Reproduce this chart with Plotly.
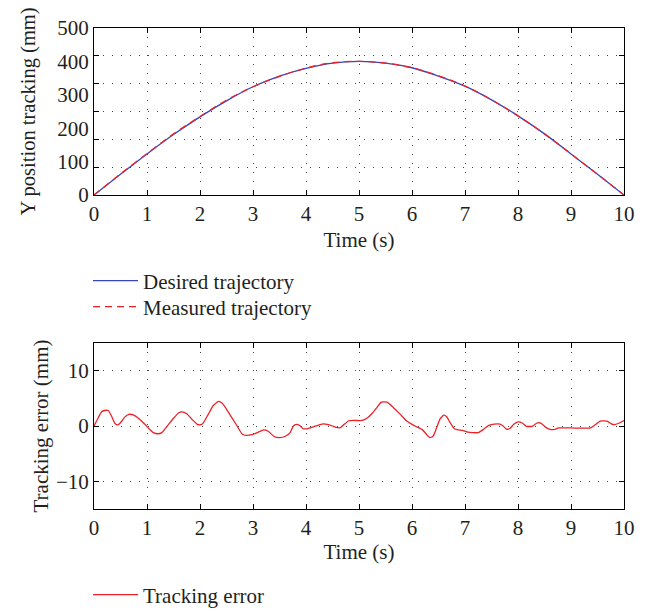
import plotly.graph_objects as go

# ---- data ----
traj_t = [0, 0.5, 1, 1.5, 2, 2.5, 3, 3.5, 4, 4.5, 5, 5.5, 6, 6.5, 7, 7.5, 8, 8.5, 9, 9.5, 10]
desired = [0, 62, 123, 181, 234, 282, 324, 356, 379, 395, 400, 395, 381, 356, 326, 285, 237, 183, 123, 62, 0]
measured = [0, 63, 124, 183, 235, 284, 324, 355, 380, 396, 400, 395, 381, 357, 326, 285, 237, 183, 123, 62, 0]

err_t = [0, 0.08, 0.15, 0.2, 0.27, 0.33, 0.4, 0.45, 0.5, 0.58, 0.66, 0.74, 0.85, 0.95,
         1.05, 1.12, 1.2, 1.28, 1.4, 1.5, 1.6, 1.66, 1.75, 1.85, 1.95, 2.0, 2.05, 2.15,
         2.25, 2.35, 2.42, 2.55, 2.7, 2.8, 2.87, 3.0, 3.1, 3.2, 3.28, 3.4, 3.5, 3.62,
         3.7, 3.76, 3.82, 3.88, 3.95, 4.02, 4.15, 4.3, 4.4, 4.5, 4.55, 4.65, 4.72, 4.8,
         4.9, 5.06, 5.15, 5.25, 5.35, 5.42, 5.53, 5.65, 5.78, 5.9, 6.0, 6.1, 6.2, 6.3,
         6.34, 6.4, 6.47, 6.53, 6.6, 6.65, 6.72, 6.8, 6.87, 6.95, 7.05, 7.15, 7.25, 7.35,
         7.45, 7.55, 7.66, 7.72, 7.78, 7.84, 7.92, 8.0, 8.08, 8.16, 8.27, 8.35, 8.4, 8.46,
         8.53, 8.62, 8.7, 8.77, 9.0, 9.37, 9.47, 9.55, 9.68, 9.76, 9.82, 9.9, 10.0]
err_v = [0, 1.5, 2.6, 2.8, 2.8, 1.8, 0.4, 0.2, 0.6, 1.6, 2.1, 2.0, 1.3, 0.4,
         -0.6, -1.2, -1.4, -1.2, 0.2, 1.4, 2.4, 2.55, 2.2, 1.2, 0.3, 0.2, 0.4, 2.0,
         3.7, 4.45, 4.1, 2.3, 0.0, -1.5, -1.7, -1.5, -1.1, -0.7, -0.9, -1.9, -2.1, -1.8,
         -1.2, 0.0, 0.3, 0.1, -0.5, -0.5, -0.1, 0.35, 0.3, 0.0, -0.2, -0.3, 0.3, 0.9,
         1.0, 1.0, 1.4, 2.3, 3.5, 4.3, 4.3, 3.3, 2.1, 0.9, 0.3, -0.2, -0.7, -1.8,
         -2.1, -1.8, -0.2, 1.3, 1.95, 1.7, 0.6, -0.5, -0.7, -0.8, -1.1, -1.2, -1.2, -0.6,
         0.1, 0.35, 0.35, 0.0, -0.55, -0.5, 0.3, 0.75, 0.55, -0.05, -0.05, 0.5, 0.6, 0.3,
         -0.3, -0.65, -0.6, -0.35, -0.35, -0.35, 0.3, 0.9, 0.9, 0.4, 0.25, 0.5, 1.0]

x_ticks = [0, 1, 2, 3, 4, 5, 6, 7, 8, 9, 10]
y1_ticks = [0, 100, 200, 300, 400, 500]
y1_grid = [83.33, 166.67, 250, 333.33, 416.67]
y2_ticks = [-10, 0, 10]

# ---- style ----
W, H = 666, 614
OFF = 8  # page body margin offset
FONT = "Liberation Serif"
TXT = "#231f20"
BLUE = "#3545c0"
RED = "#ec2228"
GRID = "#444444"
DOT = "1px,8px"
FS = 21


def px_x(p):
    return (p - OFF) / W


def px_y(p):
    return 1 - (p - OFF) / H


base = dict(showline=True, linecolor="black", linewidth=1, mirror="ticks",
            ticks="inside", ticklen=5, tickcolor="black", tickwidth=1,
            zeroline=False, automargin=False,
            tickfont=dict(family=FONT, size=FS, color=TXT))
tfont = dict(family=FONT, size=FS, color=TXT)

fig = go.Figure()
fig.add_trace(go.Scatter(x=traj_t, y=desired, mode="lines", name="Desired trajectory",
                         line=dict(color=BLUE, width=1.3, shape="spline"),
                         xaxis="x", yaxis="y", legend="legend"))
fig.add_trace(go.Scatter(x=traj_t, y=measured, mode="lines", name="Measured trajectory",
                         line=dict(color=RED, width=1.3, dash="7px,5px", shape="spline"),
                         xaxis="x", yaxis="y", legend="legend2"))
fig.add_trace(go.Scatter(x=err_t, y=err_v, mode="lines", name="Tracking error",
                         line=dict(color=RED, width=1.3, shape="spline", smoothing=0.5),
                         xaxis="x2", yaxis="y2", legend="legend3"))

xdom = [px_x(94), px_x(624)]


def leg(ycenter):
    return dict(x=px_x(88), y=px_y(ycenter), xanchor="left", yanchor="middle",
                bgcolor="rgba(0,0,0,0)", font=tfont, itemwidth=45)


fig.update_layout(
    width=W, height=H,
    margin=dict(l=0, r=0, t=0, b=0),
    paper_bgcolor="white", plot_bgcolor="white",
    font=tfont,
    xaxis=dict(base, domain=xdom, anchor="y", range=[0, 10], tickvals=x_ticks,
               showgrid=True, gridcolor=GRID, griddash=DOT, gridwidth=1,
               title=dict(text="Time (s)", standoff=7, font=tfont)),
    yaxis=dict(base, domain=[px_y(195), px_y(28)], anchor="x", range=[0, 500],
               tickvals=y1_ticks, ticks="", showgrid=False,
               minor=dict(tickmode="array", tickvals=y1_grid, ticks="inside", ticklen=5,
                          tickcolor="black", showgrid=True, gridcolor=GRID,
                          griddash=DOT, gridwidth=1),
               title=dict(text="Y position tracking (mm)", standoff=16,
                          font=dict(family=FONT, size=20.5, color=TXT))),
    xaxis2=dict(base, domain=xdom, anchor="y2", range=[0, 10], tickvals=x_ticks,
                showgrid=True, gridcolor=GRID, griddash=DOT, gridwidth=1,
                title=dict(text="Time (s)", standoff=3, font=tfont)),
    yaxis2=dict(base, domain=[px_y(509), px_y(343)], anchor="x2", range=[-15, 15],
                tickvals=y2_ticks, showgrid=True, gridcolor=GRID, griddash=DOT, gridwidth=1,
                title=dict(text="Tracking error (mm)", standoff=1, font=tfont)),
    legend=leg(281),
    legend2=leg(307),
    legend3=leg(595),
    showlegend=True,
)

fig.write_html("out.html")
